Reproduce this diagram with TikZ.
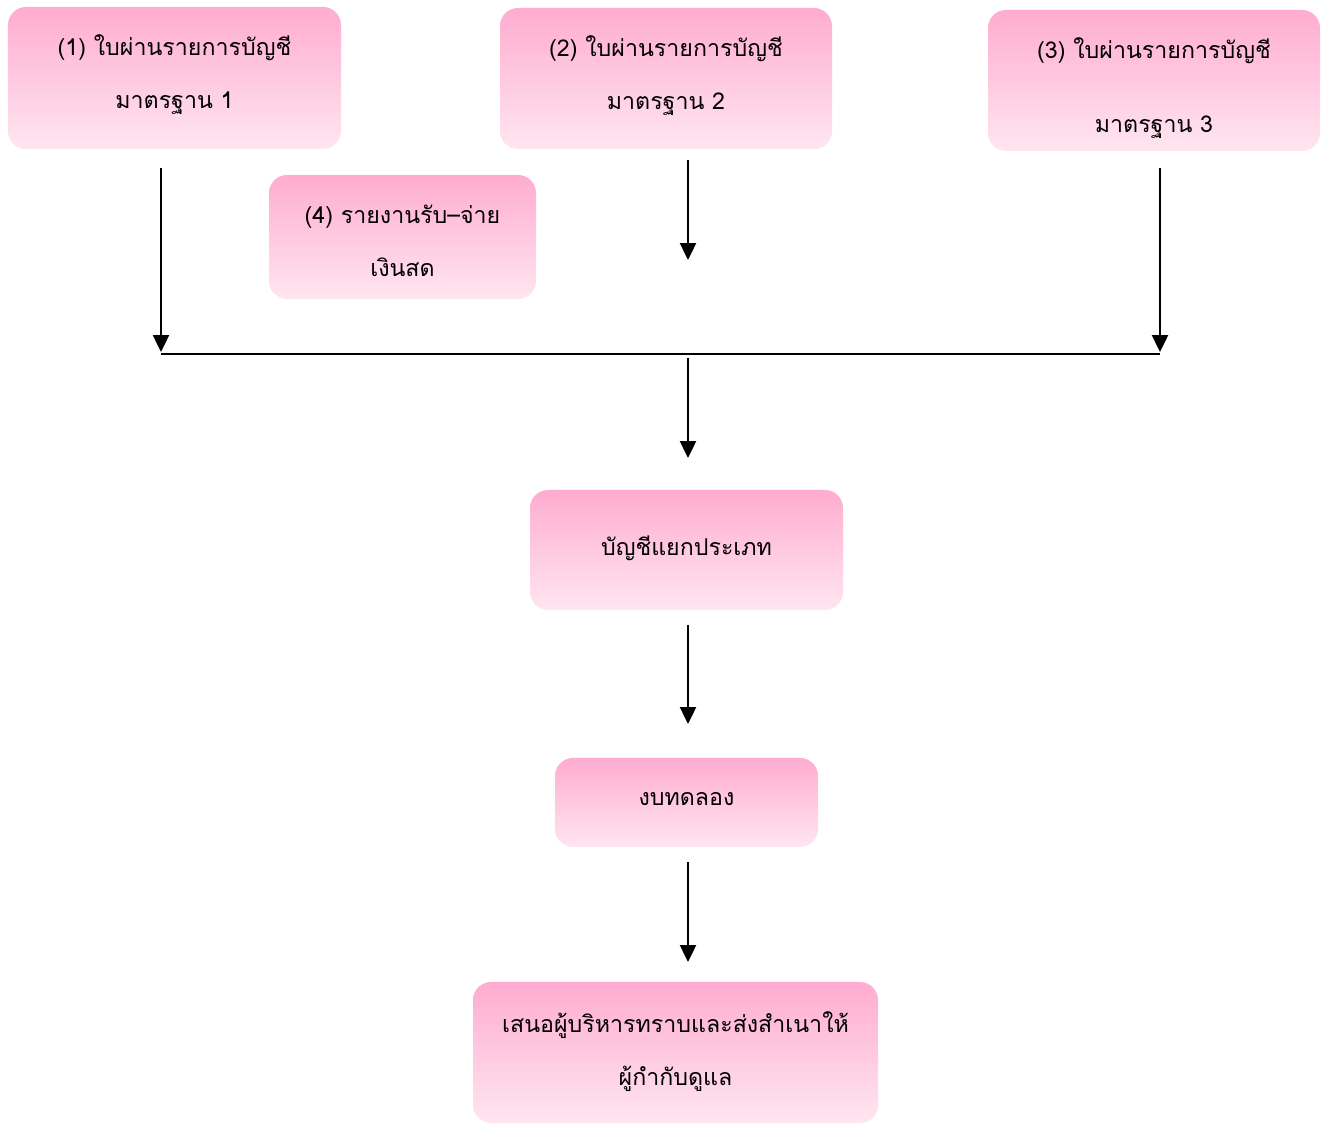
\documentclass[tikz,border=0pt]{standalone}
\usepackage{fontspec}
\newfontfamily\thaifont[Script=Thai]{Loma}
\usetikzlibrary{arrows.meta}
\definecolor{boxtop}{RGB}{255,172,208}
\definecolor{boxbot}{RGB}{255,230,240}
% text block raised by #1 inside a box
\newcommand{\boxtext}[2]{\raisebox{#1}[0pt][0pt]{\begin{tabular}{@{}c@{}}#2\end{tabular}}}
\tikzset{
  flowbox/.style={rounded corners=0.18cm, top color=boxtop, bottom color=boxbot,
    draw=none, inner sep=0pt,
    font=\thaifont\fontsize{6.6}{15}\selectfont},
  >={Triangle[width=4.6pt,length=4.8pt]}
}
\begin{document}
\begin{tikzpicture}
  \useasboundingbox (0,0) rectangle (13.22,-11.24);
  \node[flowbox,minimum width=3.33cm,minimum height=1.42cm] (b1) at (1.745,-0.78) {\boxtext{0.1pt}{(1) ใบผ่านรายการบัญชี\\มาตรฐาน 1}};
  \node[flowbox,minimum width=3.32cm,minimum height=1.41cm] (b2) at (6.66,-0.785) {\boxtext{0pt}{(2) ใบผ่านรายการบัญชี\\มาตรฐาน 2}};
  \node[flowbox,minimum width=3.32cm,minimum height=1.41cm] (b3) at (11.54,-0.805) {\boxtext{-3pt}{(3) ใบผ่านรายการบัญชี\\[6pt]มาตรฐาน 3}};
  \node[flowbox,minimum width=2.67cm,minimum height=1.24cm] (b4) at (4.025,-2.37) {\boxtext{-2.5pt}{(4) รายงานรับ–จ่าย\\เงินสด}};
  \node[flowbox,minimum width=3.13cm,minimum height=1.20cm] (b5) at (6.865,-5.50) {\boxtext{-0.2pt}{บัญชีแยกประเภท}};
  \node[flowbox,minimum width=2.63cm,minimum height=0.89cm] (b6) at (6.865,-8.025) {\boxtext{0.5pt}{งบทดลอง}};
  \node[flowbox,minimum width=4.05cm,minimum height=1.41cm] (b7) at (6.755,-10.525) {\boxtext{-0.6pt}{เสนอผู้บริหารทราบและส่งสำเนาให้\\ผู้กำกับดูแล}};
  % connector ends
  \coordinate (s1) at (1.61,-1.68);
  \coordinate (j1) at (1.61,-3.52);
  \coordinate (s2) at (6.88,-1.60);
  \coordinate (e2) at (6.88,-2.60);
  \coordinate (s3) at (11.60,-1.68);
  \coordinate (j3) at (11.60,-3.52);
  \coordinate (s5) at (6.88,-3.58);
  \coordinate (e5) at (6.88,-4.58);
  \coordinate (s6) at (6.88,-6.25);
  \coordinate (e6) at (6.88,-7.24);
  \coordinate (s7) at (6.88,-8.62);
  \coordinate (e7) at (6.88,-9.62);
  \draw[thin,->] (s1) -- (j1);
  \draw[thin,->] (s2) -- (e2);
  \draw[thin,->] (s3) -- (j3);
  \draw[thin] ([yshift=-0.02cm]j1) -- ([yshift=-0.02cm]j3);
  \draw[thin,->] (s5) -- (e5);
  \draw[thin,->] (s6) -- (e6);
  \draw[thin,->] (s7) -- (e7);
\end{tikzpicture}
\end{document}
